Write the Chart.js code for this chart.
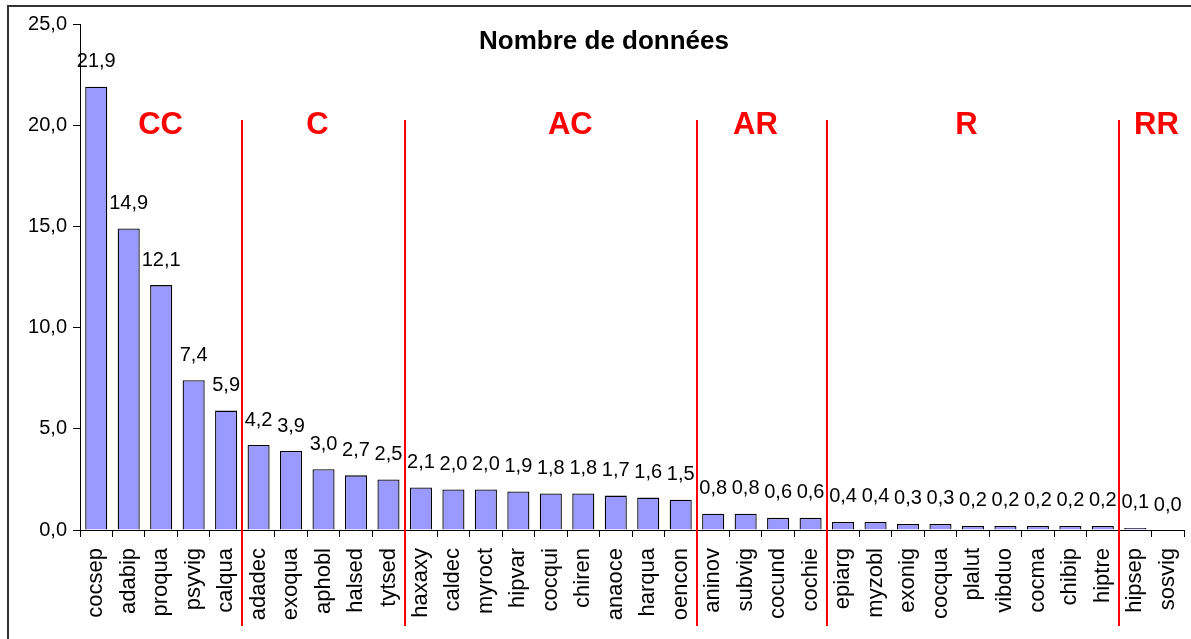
<!DOCTYPE html>
<html>
<head>
<meta charset="utf-8">
<script src="https://cdn.jsdelivr.net/npm/chart.js@4.4.1/dist/chart.umd.min.js"></script>
<style>
  body { margin: 0; background: #fff; }
  #wrap { width: 1191px; height: 639px; }
</style>
</head>
<body>
<div id="wrap"><canvas id="dataChart" width="1191" height="639"></canvas></div>
<script>
// ---- data ----
const species = ['cocsep', 'adabip', 'proqua', 'psyvig', 'calqua',
    'adadec', 'exoqua', 'aphobl', 'halsed', 'tytsed',
    'haxaxy', 'caldec', 'myroct', 'hipvar', 'cocqui', 'chiren', 'anaoce', 'harqua', 'oencon',
    'aninov', 'subvig', 'cocund', 'cochie',
    'epiarg', 'myzobl', 'exonig', 'cocqua', 'plalut', 'vibduo', 'cocma', 'chibip', 'hiptre',
    'hipsep', 'sosvig'];
const counts = [21.9, 14.9, 12.1, 7.4, 5.9,
    4.2, 3.9, 3.0, 2.7, 2.5,
    2.1, 2.0, 2.0, 1.9, 1.8, 1.8, 1.7, 1.6, 1.5,
    0.8, 0.8, 0.6, 0.6,
    0.4, 0.4, 0.3, 0.3, 0.2, 0.2, 0.2, 0.2, 0.2,
    0.1, 0.0];
const yTicks = [0, 5, 10, 15, 20, 25];

// abundance classes and how many species fall in each
const groupNames = ['CC', 'C', 'AC', 'AR', 'R', 'RR'];
const groupSizes = [5, 5, 9, 4, 9, 2];
// where each class label sits, in category units from the left edge
const groupLabelAt = [2.48, 7.31, 15.1, 20.8, 27.3, 33.15];

const FONT = '"Liberation Sans", Arial, sans-serif';
const fmt = v => v.toFixed(1).replace('.', ',');

const ctx = document.getElementById('dataChart').getContext('2d');

// frame, title, class separators and value labels
const decorations = {
    id: 'decorations',
    afterDatasetsDraw(chart) {
        const c = chart.ctx;
        const area = chart.chartArea;
        const n = species.length;
        const catW = (area.right - area.left) / n;

        c.save();
        // outer frame (only top and left edges are inside the picture)
        c.strokeStyle = '#333';
        c.lineWidth = 2;
        c.beginPath();
        c.moveTo(8, 640);
        c.lineTo(8, 6);
        c.lineTo(1192, 6);
        c.stroke();

        // title
        c.fillStyle = '#000';
        c.font = 'bold 26px ' + FONT;
        c.textAlign = 'center';
        c.textBaseline = 'middle';
        c.fillText('Nombre de données', 604, 42);

        // value labels above bars
        const meta = chart.getDatasetMeta(0);
        c.font = '20px ' + FONT;
        meta.data.forEach((bar, i) => {
            c.fillText(fmt(counts[i]), bar.x, bar.y - 25);
        });

        // red class separators
        c.strokeStyle = '#ff0000';
        c.lineWidth = 2;
        let idx = 0;
        for (let g = 0; g < groupSizes.length - 1; g++) {
            idx += groupSizes[g];
            const x = Math.round(area.left + idx * catW);
            c.beginPath();
            c.moveTo(x, 120);
            c.lineTo(x, 626);
            c.stroke();
        }

        // class names
        c.fillStyle = '#ff0000';
        c.font = 'bold 31px ' + FONT;
        groupNames.forEach((name, g) => {
            c.fillText(name, area.left + groupLabelAt[g] * catW, 125);
        });
        c.restore();
    }
};

const dataChart = new Chart(ctx, {
    type: 'bar',
    data: {
        labels: species,
        datasets: [{
            data: counts,
            backgroundColor: '#9999ff',
            borderColor: '#000',
            borderWidth: 1.3,
            barPercentage: 0.68,
            categoryPercentage: 1.0
        }]
    },
    options: {
        responsive: false,
        animation: false,
        layout: { padding: { left: 10, top: 24, right: 7, bottom: 9 } },
        plugins: {
            legend: { display: false },
            tooltip: { enabled: false }
        },
        scales: {
            x: {
                grid: { drawOnChartArea: false, color: '#000', tickLength: 7, offset: true },
                border: { color: '#000', width: 1 },
                ticks: {
                    color: '#000',
                    autoSkip: false,
                    minRotation: 90,
                    maxRotation: 90,
                    padding: 11,
                    font: { family: FONT, size: 22 }
                },
                afterFit(scale) {
                    scale.height = 100;
                    scale.paddingLeft = 0;
                    scale.paddingRight = 0;
                }
            },
            y: {
                min: 0,
                max: 25,
                grid: { drawOnChartArea: false, color: '#000', tickLength: 7 },
                border: { color: '#000', width: 1 },
                afterBuildTicks(scale) {
                    scale.ticks = yTicks.map(v => ({ value: v }));
                },
                ticks: {
                    color: '#000',
                    padding: 6,
                    font: { family: FONT, size: 20 },
                    callback: v => fmt(v)
                },
                afterFit(scale) {
                    scale.width = 70;
                }
            }
        }
    },
    plugins: [decorations]
});
</script>
</body>
</html>
